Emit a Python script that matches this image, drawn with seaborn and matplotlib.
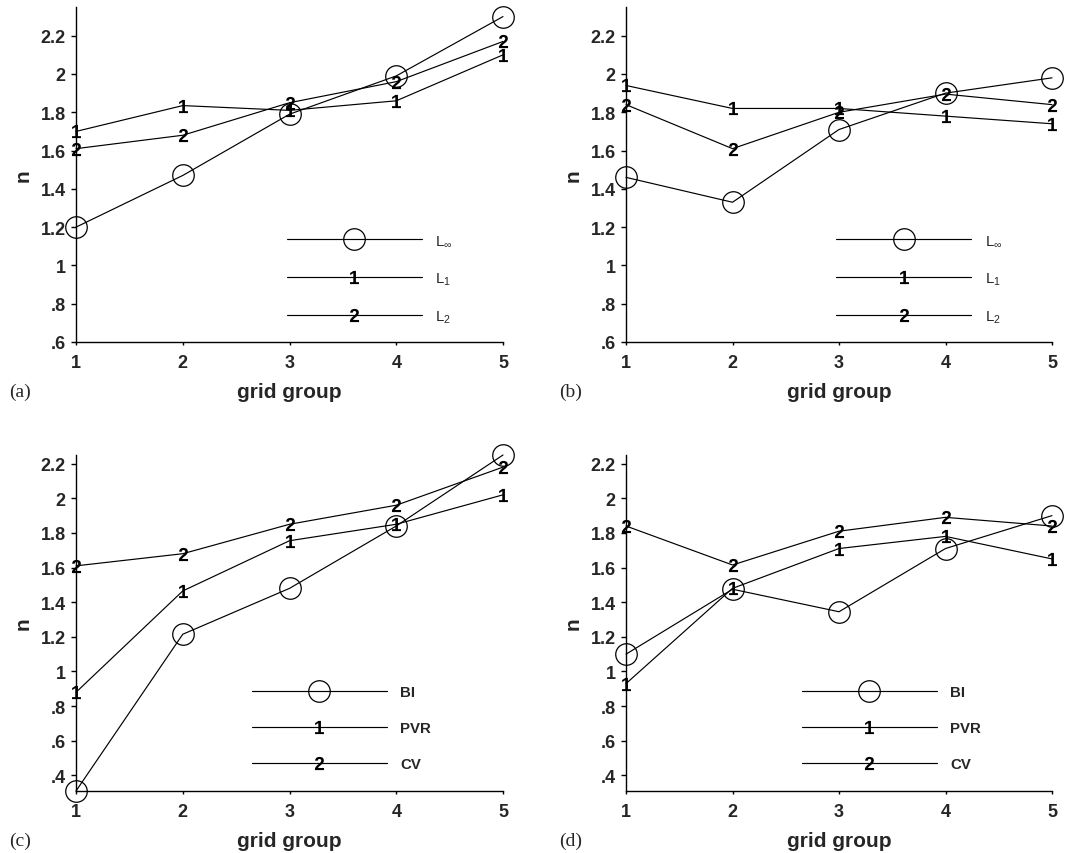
import numpy as np
import pandas as pd
import matplotlib
matplotlib.use("Agg")
import matplotlib.pyplot as plt
from matplotlib.ticker import FuncFormatter, FixedLocator
import seaborn as sns

# ---- data -------------------------------------------------------------
groups = [1, 2, 3, 4, 5]

# (a) norms, first set
a_linf = [1.20, 1.47, 1.79, 1.99, 2.30]
a_l1 = [1.70, 1.835, 1.81, 1.86, 2.10]
a_l2 = [1.61, 1.68, 1.85, 1.96, 2.17]

# (b) norms, second set
b_linf = [1.46, 1.33, 1.71, 1.90, 1.98]
b_l1 = [1.94, 1.82, 1.82, 1.78, 1.74]
b_l2 = [1.84, 1.61, 1.80, 1.895, 1.84]

# (c) indicators, first set
c_bi = [0.31, 1.215, 1.48, 1.84, 2.25]
c_pvr = [0.88, 1.465, 1.755, 1.85, 2.02]
c_cv = [1.61, 1.68, 1.85, 1.96, 2.18]

# (d) indicators, second set
d_bi = [1.10, 1.475, 1.345, 1.71, 1.90]
d_pvr = [0.93, 1.48, 1.71, 1.78, 1.65]
d_cv = [1.84, 1.615, 1.81, 1.89, 1.84]

norm_labels = [r"L$_{\infty}$", r"L$_{1}$", r"L$_{2}$"]
ind_labels = ["BI", "PVR", "CV"]
panel_tags = ["(a)", "(b)", "(c)", "(d)"]

# ---- style ------------------------------------------------------------
sns.set_style("ticks")
plt.rcParams["font.family"] = ["Liberation Sans", "DejaVu Sans"]
plt.rcParams["mathtext.fontset"] = "custom"
plt.rcParams["mathtext.rm"] = "Liberation Sans"
plt.rcParams["mathtext.bf"] = "Liberation Sans:bold"
plt.rcParams["mathtext.default"] = "rm"

fig = plt.figure(figsize=(10.81, 8.54), dpi=100)

W, H = 1081, 854
boxes = [
    (76, 8, 503, 343),
    (626, 8, 1052, 343),
    (76, 456, 503, 792),
    (626, 456, 1052, 792),
]

LW = 0.85
circ = dict(marker="o", markersize=15.5, markerfacecolor="none",
            markeredgecolor="black", markeredgewidth=0.9)
one = dict(marker=r"$\mathbf{1}$", markersize=9.5, markerfacecolor="black",
           markeredgecolor="black", markeredgewidth=0)
two = dict(marker=r"$\mathbf{2}$", markersize=9.5, markerfacecolor="black",
           markeredgecolor="black", markeredgewidth=0)


def fmt(v, _pos):
    s = f"{v:g}"
    if s.startswith("0."):
        s = s[1:]
    return s


panels = [
    ((a_linf, a_l1, a_l2), norm_labels, 0.6, 2.35, np.arange(0.6, 2.21, 0.2), 0.494, False),
    ((b_linf, b_l1, b_l2), norm_labels, 0.6, 2.35, np.arange(0.6, 2.21, 0.2), 0.493, False),
    ((c_bi, c_pvr, c_cv), ind_labels, 0.31, 2.25, np.arange(0.4, 2.21, 0.2), 0.412, True),
    ((d_bi, d_pvr, d_cv), ind_labels, 0.31, 2.25, np.arange(0.4, 2.21, 0.2), 0.413, True),
]

for i, (series, labels, ylo, yhi, yt, legx, boldleg) in enumerate(panels):
    l, t, r, b = boxes[i]
    ax = fig.add_axes([l / W, 1 - b / H, (r - l) / W, (b - t) / H])
    handles = []
    for vals, lab, mk in zip(series, labels, (circ, one, two)):
        df = pd.DataFrame({"group": groups, "n": vals})
        sns.lineplot(data=df, x="group", y="n", ax=ax, color="black",
                     lw=LW, clip_on=False, zorder=3, **mk)
        handles.append(ax.lines[-1])
    ax.set_xlim(1, 5)
    ax.set_ylim(ylo, yhi)
    ax.xaxis.set_major_locator(FixedLocator(groups))
    ax.yaxis.set_major_locator(FixedLocator(yt))
    ax.yaxis.set_major_formatter(FuncFormatter(fmt))
    ax.xaxis.set_major_formatter(FuncFormatter(fmt))
    sns.despine(ax=ax)
    for s in ("left", "bottom"):
        ax.spines[s].set_linewidth(1.0)
        ax.spines[s].set_color("black")
    ax.tick_params(axis="y", direction="out", length=3.6, width=1.0,
                   color="black", labelsize=13, pad=3.8)
    ax.tick_params(axis="x", direction="out", length=2.4, width=1.0,
                   color="black", labelsize=13, pad=6.5)
    for tl in ax.get_xticklabels() + ax.get_yticklabels():
        tl.set_fontweight("bold")
    ax.set_xlabel("grid group", fontsize=15, fontweight="bold", labelpad=8)
    ax.set_ylabel("n", fontsize=15, fontweight="bold", labelpad=6)
    ax.legend(handles, labels, loc="center left",
              bbox_to_anchor=(legx, 0.187), frameon=False,
              handlelength=9.0, handletextpad=0.9, labelspacing=1.47,
              borderpad=0, borderaxespad=0, numpoints=1,
              prop={"size": 10.8, "weight": "bold" if boldleg else "normal"})
    fig.text((l - 67) / W, 1 - (b + 49) / H, panel_tags[i],
             family="Liberation Serif", fontsize=14, va="center", ha="left")

fig.savefig("out.png", dpi=100)
